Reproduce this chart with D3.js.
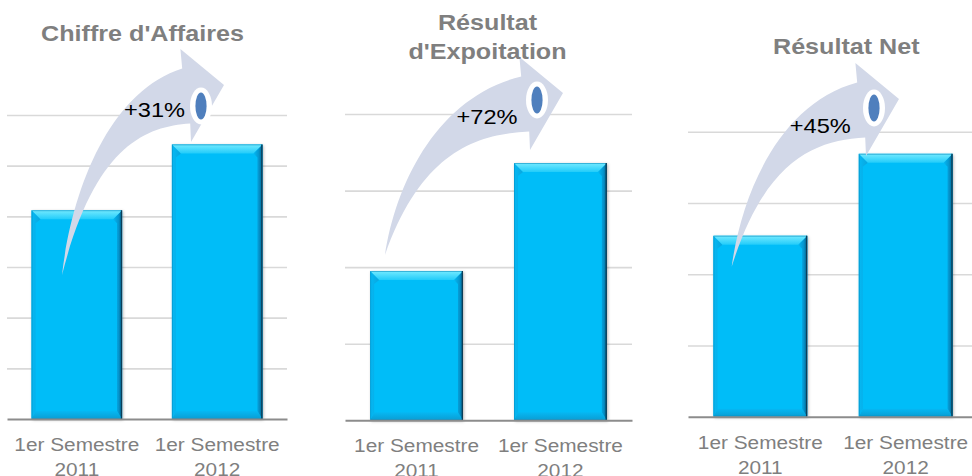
<!DOCTYPE html>
<html>
<head>
<meta charset="utf-8">
<script src="https://cdn.jsdelivr.net/npm/d3@7"></script>
<style>
  html, body { margin: 0; padding: 0; background: #fff; }
  svg { display: block; }
  text { font-family: "Liberation Sans", Arial, Helvetica, sans-serif; }
</style>
</head>
<body>
<svg id="chart" width="972" height="476"></svg>
<script>
// ---------------- DATA ----------------
const categories = ["1er Semestre 2011", "1er Semestre 2012"];
const chiffreAffaires = [4.12, 5.42];
const resultatExploitation = [1.95, 3.36];
const resultatNet = [2.54, 3.69];
const growthLabels = ["+31%", "+72%", "+45%"];
const panelTitles = [["Chiffre d'Affaires"], ["Résultat", "d'Expoitation"], ["Résultat Net"]];
const caTicks = [1, 2, 3, 4, 5, 6];
const exploitationTicks = [1, 2, 3, 4];
const netTicks = [1, 2, 3, 4];

// ---------------- LAYOUT ----------------
const panels = [
  { values: chiffreAffaires, ticks: caTicks, yMax: 6,
    xRange: [7, 287], yRange: [419, 115],
    titleX: 142.5, titleY: [41],
    growthX: 154.5, growthY: 117,
    tail: [62, 275], tip: [224, 85], eye: [-23, 21] },
  { values: resultatExploitation, ticks: exploitationTicks, yMax: 4,
    xRange: [345, 632], yRange: [420.3, 114],
    titleX: 487.5, titleY: [30, 59],
    growthX: 487, growthY: 124,
    tail: [385, 255], tip: [563, 93], eye: [-26, 7] },
  { values: resultatNet, ticks: netTicks, yMax: 4,
    xRange: [688, 978], yRange: [416.7, 131.7],
    titleX: 846.3, titleY: [54],
    growthX: 820.3, growthY: 133,
    tail: [731.7, 266.7], tip: [899, 99], eye: [-25, 9] }
];

const svg = d3.select("#chart");
const defs = svg.append("defs");

function linGrad(id, x2, y2, stops) {
  const g = defs.append("linearGradient").attr("id", id)
    .attr("x1", 0).attr("y1", 0).attr("x2", x2).attr("y2", y2);
  stops.forEach(s => g.append("stop").attr("offset", s[0]).attr("stop-color", s[1]));
}
linGrad("gTop", 0, 1, [[0, "#74EAFF"], [1, "#22CCFA"]]);
linGrad("gRight", 1, 0, [[0, "#05BAF5"], [0.6, "#0596CF"], [1, "#06628C"]]);
linGrad("gBottom", 0, 1, [[0, "#05B8F3"], [1, "#0A9DD3"]]);
linGrad("gLeft", 1, 0, [[0, "#05B9F4"], [1, "#08A6DF"]]);

const f = defs.append("filter").attr("id", "shadow")
  .attr("x", "-20%").attr("y", "-10%").attr("width", "140%").attr("height", "120%");
f.append("feDropShadow").attr("dx", 1).attr("dy", 1).attr("stdDeviation", 1.6)
  .attr("flood-color", "#000").attr("flood-opacity", 0.3);

function arrowPath(T, P) {
  const B1 = [P[0] - 43.6, P[1] - 36];
  const B2 = [P[0] - 33, P[1] + 57];
  const U = [B1[0] + 1.8, B1[1] + 19.5];
  const L = [B2[0] - 0.8, B2[1] - 18.5];
  const C1 = [T[0] + 0.081 * (U[0] - T[0]), T[1] - 0.408 * (T[1] - U[1])];
  const C2 = [T[0] + 0.39 * (U[0] - T[0]), T[1] - 0.888 * (T[1] - U[1])];
  const D1 = [T[0] + 0.632 * (L[0] - T[0]), T[1] - 0.98 * (T[1] - L[1])];
  const D2 = [T[0] + 0.251 * (L[0] - T[0]), T[1] - 0.833 * (T[1] - L[1])];
  const p = d3.path();
  p.moveTo(T[0], T[1]);
  p.bezierCurveTo(C1[0], C1[1], C2[0], C2[1], U[0], U[1]);
  p.lineTo(B1[0], B1[1]);
  p.lineTo(P[0], P[1]);
  p.lineTo(B2[0], B2[1]);
  p.lineTo(L[0], L[1]);
  p.bezierCurveTo(D1[0], D1[1], D2[0], D2[1], T[0], T[1]);
  p.closePath();
  return p.toString();
}

panels.forEach((cfg, pi) => {
  const g = svg.append("g");
  const x = d3.scaleBand().domain(categories).range(cfg.xRange)
    .paddingInner(0.355).paddingOuter(0.175);
  const y = d3.scaleLinear().domain([0, cfg.yMax]).range(cfg.yRange);
  const w = cfg.xRange[1] - cfg.xRange[0];

  // gridlines
  const grid = g.append("g").attr("transform", `translate(${cfg.xRange[0]},0)`)
    .call(d3.axisLeft(y).tickValues(cfg.ticks).tickSize(-w).tickFormat(""));
  grid.select(".domain").remove();
  grid.selectAll(".tick line").attr("stroke", "#D9D9D9").attr("stroke-width", 1.6);

  // bars with bevel
  const bars = g.selectAll(".bar").data(categories.map((c, i) => ({ c, v: cfg.values[i] })))
    .enter().append("g").attr("class", "bar");
  bars.each(function (d) {
    const bg = d3.select(this);
    const x0 = x(d.c), x1 = x0 + x.bandwidth(), y0 = y(d.v), y1 = y(0);
    const b = 9, br = 5, bb = 8, bl = 4;
    bg.append("rect").attr("x", x0).attr("y", y0).attr("width", x1 - x0).attr("height", y1 - y0)
      .attr("fill", "#05BDF8").attr("filter", "url(#shadow)");
    bg.append("polygon").attr("points", [[x0, y1], [x1, y1], [x1 - br, y1 - bb], [x0 + bl, y1 - bb]].join(" "))
      .attr("fill", "url(#gBottom)");
    bg.append("polygon").attr("points", [[x0, y0], [x0 + b, y0 + b], [x0 + bl, y0 + b + 4], [x0 + bl, y1 - bb], [x0, y1]].join(" "))
      .attr("fill", "url(#gLeft)");
    bg.append("polygon").attr("points", [[x1, y0], [x1 - b, y0 + b], [x1 - br, y0 + b + 4], [x1 - br, y1 - bb], [x1, y1]].join(" "))
      .attr("fill", "url(#gRight)");
    bg.append("polygon").attr("points", [[x0, y0], [x1, y0], [x1 - b, y0 + b], [x0 + b, y0 + b]].join(" "))
      .attr("fill", "url(#gTop)");
    bg.append("rect").attr("x", x0 + 0.5).attr("y", y0 + 0.5).attr("width", x1 - x0 - 1).attr("height", y1 - y0 - 1)
      .attr("fill", "none").attr("stroke", "#0A88BC").attr("stroke-opacity", 0.55).attr("stroke-width", 1);
    bg.append("line").attr("x1", x1 - 0.6).attr("x2", x1 - 0.6).attr("y1", y0).attr("y2", y1)
      .attr("stroke", "#0B3E58").attr("stroke-width", 1.3);
  });

  // baseline + category labels
  const ax = g.append("g").attr("transform", `translate(0,${y(0)})`)
    .call(d3.axisBottom(x).tickSize(0).tickSizeOuter(0).tickFormat(""));
  ax.select(".domain").attr("stroke", "#8C8C8C").attr("stroke-width", 2);
  ax.selectAll(".tick").each(function (c) {
    const parts = c.split(" ");
    const t = d3.select(this).append("text")
      .attr("text-anchor", "middle").attr("fill", "#7F7F7F")
      .attr("font-size", "18.6px").attr("transform", "scale(1.12,1)");
    t.append("tspan").attr("x", 0).attr("y", 32).text(parts.slice(0, 2).join(" "));
    t.append("tspan").attr("x", 0).attr("y", 57).text(parts.slice(2).join(" "));
  });

  // curved growth arrow
  g.append("path").attr("d", arrowPath(cfg.tail, cfg.tip)).attr("fill", "#D2D8E8");
  const ex = cfg.tip[0] + cfg.eye[0], ey = cfg.tip[1] + cfg.eye[1];
  g.append("ellipse").attr("cx", ex).attr("cy", ey).attr("rx", 11).attr("ry", 18.5).attr("fill", "#FFFFFF");
  g.append("ellipse").attr("cx", ex).attr("cy", ey).attr("rx", 5.6).attr("ry", 13.5).attr("fill", "#4F7FBD");

  // growth label
  g.append("text").attr("transform", `translate(${cfg.growthX},${cfg.growthY}) scale(1.18,1)`)
    .attr("text-anchor", "middle").attr("font-size", "20px").attr("fill", "#000")
    .text(growthLabels[pi]);

  // title
  panelTitles[pi].forEach((line, li) => {
    g.append("text").attr("transform", `translate(${cfg.titleX},${cfg.titleY[li]}) scale(1.17,1)`)
      .attr("text-anchor", "middle").attr("font-size", "21.5px").attr("font-weight", "bold")
      .attr("fill", "#7F7F7F").text(line);
  });
});
</script>
</body>
</html>
